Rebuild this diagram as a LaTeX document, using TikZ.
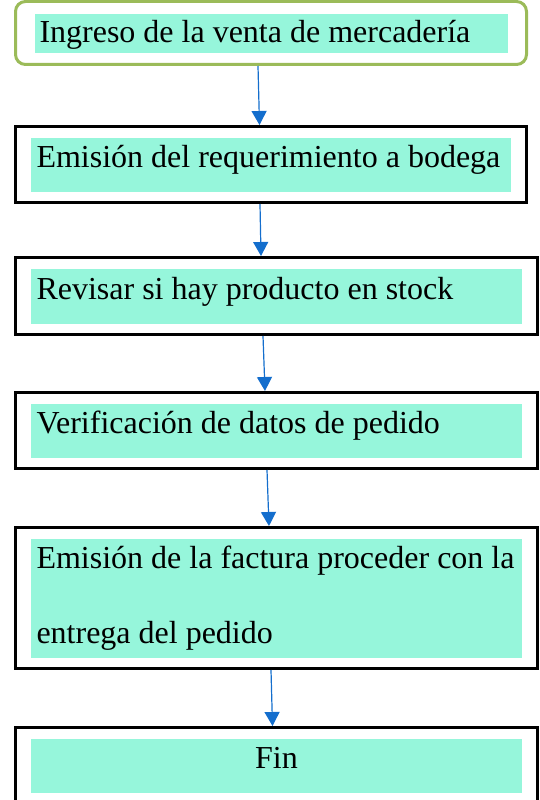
\documentclass[tikz,border=0pt]{standalone}
\usepackage{fontspec}
\setmainfont{Liberation Serif}
\usepackage{tikz}
\usepackage{xcolor}
\usetikzlibrary{positioning,arrows.meta}
\definecolor{mint}{RGB}{150,246,219}
\definecolor{olivebox}{RGB}{155,187,89}
\definecolor{flowblue}{RGB}{20,110,205}
\tikzset{
  basic/.style   = {draw, rectangle, line width=3pt, align=flush left, inner ysep=0pt,
                    font=\fontsize{32pt}{38pt}\selectfont},
  stepbox/.style = {basic, inner xsep=21pt, text width=480pt, minimum height=76pt,
                    text height=14pt, text depth=8pt,
                    path picture={\fill[mint, sharp corners]
                      ([shift={(15.5pt,-11pt)}]path picture bounding box.north west) rectangle
                      ([shift={(-15.5pt,11pt)}]path picture bounding box.south east);}},
  startbox/.style = {basic, draw=olivebox, rounded corners=10pt, inner xsep=24pt,
                    text width=463pt, minimum height=63pt, text height=28pt, text depth=8pt,
                    path picture={\fill[mint, sharp corners]
                      ([shift={(19pt,-12.5pt)}]path picture bounding box.north west) rectangle
                      ([shift={(-18.5pt,11.5pt)}]path picture bounding box.south east);}},
  flow/.style    = {draw=flowblue, line width=1.2pt, -{Triangle[length=14pt,width=15pt]}}
}

\begin{document}
\begin{tikzpicture}
\useasboundingbox (0,0) rectangle (539pt,-800pt);
\clip (0,0) rectangle (539pt,-800pt);

% start of the process
\node[startbox, anchor=north west] (ingreso) at (14pt,0pt) {Ingreso de la venta de mercadería};
% the steps, each one below the previous box
\node[stepbox, text width=469pt, below right=59pt and 0pt of ingreso.south west] (emision)
  {Emisión del requerimiento a bodega};
\node[stepbox, minimum height=77pt, below right=52pt and 0pt of emision.south west] (revisar)
  {Revisar si hay producto en stock};
\node[stepbox, below right=55pt and 0pt of revisar.south west] (verif)
  {Verificación de datos de pedido};
\node[stepbox, minimum height=141pt, text height=, text depth=,
      below right=56pt and 0pt of verif.south west] (factura)
  {\mbox{Emisión de la factura proceder con la}\\[37pt]entrega del pedido};
% end of the process
\node[stepbox, align=center, below right=56pt and 0pt of factura.south west] (fin) {Fin};

\draw[flow] ([xshift=-13pt]ingreso.south) -- ([xshift=-11.5pt]emision.north);
\draw[flow] ([xshift=-11pt]emision.south) -- ([xshift=-15.5pt]revisar.north);
\draw[flow] ([xshift=-13.5pt]revisar.south) -- ([xshift=-11.5pt]verif.north);
\draw[flow] ([xshift=-9.5pt]verif.south) -- ([xshift=-7.5pt]factura.north);
\draw[flow] ([xshift=-5.5pt]factura.south) -- ([xshift=-4pt]fin.north);
\end{tikzpicture}
\end{document}
